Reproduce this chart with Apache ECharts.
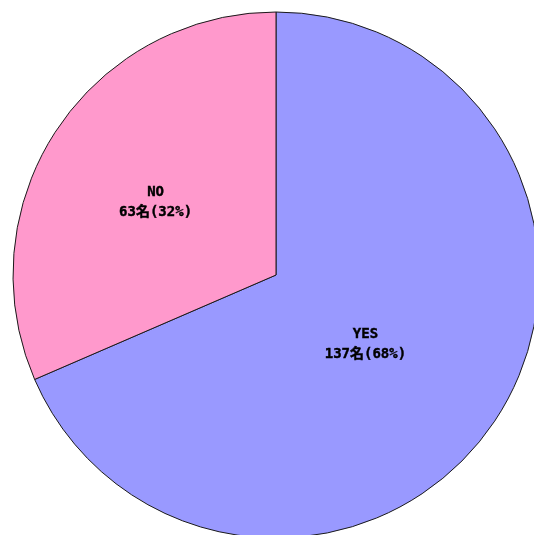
<!DOCTYPE html>
<html>
<head>
<meta charset="utf-8">
<style>
  html, body { margin: 0; padding: 0; background: #ffffff; }
  #chart { width: 534px; height: 535px; }
</style>
<script src="https://cdn.jsdelivr.net/npm/echarts@6/dist/echarts.min.js"></script>
</head>
<body>
<div id="chart"></div>
<script>
// Survey answers and head counts
const categories = ['YES', 'NO'];
const counts = [137, 63];
const percents = [68, 32];

// Slice fills and label nudges, keyed by answer
const sliceColors = { YES: '#9999ff', NO: '#ff99cc' };
const labelOffsets = { YES: [-23, -4], NO: [-8, 1] };

const chart = echarts.init(document.getElementById('chart'), null, { renderer: 'canvas' });

const seriesData = categories.map((name, i) => ({
  name: name,
  value: counts[i],
  pct: percents[i],
  itemStyle: { color: sliceColors[name] },
  label: { offset: labelOffsets[name] }
}));

chart.setOption({
  animation: false,
  backgroundColor: '#ffffff',
  series: [{
    type: 'pie',
    center: [276, 275],
    radius: 263,
    startAngle: 90,
    clockwise: true,
    avoidLabelOverlap: false,
    silent: true,
    itemStyle: { borderColor: '#1a1a1a', borderWidth: 1 },
    label: {
      show: true,
      position: 'inside',
      color: '#000000',
      fontFamily: '"DejaVu Sans Mono", "Noto Sans CJK JP", monospace',
      fontWeight: 'bold',
      fontSize: 14,
      lineHeight: 20,
      align: 'center',
      textBorderColor: '#000000',
      textBorderWidth: 0.4,
      formatter: function (p) {
        return p.name + '\n' + p.value + '名(' + p.data.pct + '%)';
      }
    },
    labelLine: { show: false },
    data: seriesData
  }]
});
</script>
</body>
</html>
